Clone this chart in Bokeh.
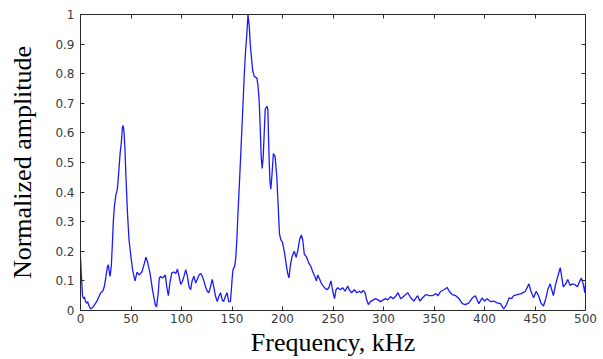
from bokeh.plotting import figure
from bokeh.models import LinearAxis, FixedTicker, Range1d, CustomLabelingPolicy
from bokeh.embed import file_html
from bokeh.resources import INLINE

freq = [0, 1, 2, 3, 4, 5, 6, 7, 8, 9, 10, 11, 12, 14, 16, 18, 20, 22, 23.5, 25,
        26.5, 27.5, 28.5, 29.3, 30.5, 31.5, 32.5, 33.5, 35, 36.5, 37.8, 39.2, 40.5, 41.5, 42.3, 43,
        44, 45, 46.5, 48, 50, 51.7, 54, 56, 58, 60.8, 63.3, 64.8, 66.3, 68.8, 71.3, 74, 75.3,
        77, 78, 79.4, 81.4, 84, 85.4, 87, 88.5, 90.4, 92.5, 94.4, 96, 97.5, 99.3, 100.9, 102.5,
        104.2, 105.8, 107.5, 109, 110.5, 112.3, 114, 115.6, 117.3, 119, 120.6, 122.2, 123.8, 125.5,
        127.1, 128.7, 130.4, 132, 133.7, 135.4, 137, 138.7, 140.2, 141.7, 143.5, 145.1, 146.7, 148.4,
        149.4, 150.1, 151, 152.7, 153.8, 154.8, 155.8, 156.8, 158.3, 159.6, 160.8, 162.2, 163.5,
        164.8, 165.8, 167.1, 168.1, 169.1, 170.5, 172.1, 174.7, 175.7, 176.9, 177.9, 178.9, 179.9,
        180.9, 181.9, 182.9, 184.5, 185.5, 186.5, 187.5, 188.4, 189.4, 191, 192.7, 194.4, 195.4,
        197, 198.2, 200, 202, 203.5, 205, 206.4, 207.7, 209.3, 211.6, 213.5, 215, 217, 218.6, 220,
        221.6, 223.9, 226, 228, 230, 232, 233.5, 235, 236.9, 239, 241.6, 244, 245.9, 248, 249.8,
        251.5, 253, 254.7, 257.3, 259.6, 261.9, 264.6, 266, 268.4, 271, 273.6, 276, 278, 280, 281.7,
        283.3, 285, 287, 289.9, 292, 294.5, 297, 299.7, 302, 304.3, 306.9, 309.5, 311.8, 314.4,
        317, 320.6, 324, 327, 330, 333.8, 336, 338.7, 342, 345, 348.5, 351.8, 354, 356.7, 360, 363,
        365, 368, 371.5, 374.8, 378, 381, 384.6, 388, 391, 394.4, 397.7, 400, 402.6, 406, 409,
        412.5, 415.8, 419, 421.8, 424.5, 426.8, 429, 432.5, 436.4, 440.5, 444, 446, 448.6, 451.2,
        453.5, 455.8, 458.4, 460.7, 462.6, 465, 466.6, 468.2, 470.5, 473, 475, 476.6, 478, 480.4,
        482.4, 484.7, 487, 489.6, 492, 494.4, 496, 497.7, 499.3, 500]

amp = [0.18, 0.11, 0.05, 0.04, 0.045, 0.03, 0.025, 0.03, 0.02, 0.012, 0.005, 0.008, 0.01, 0.02,
       0.03, 0.045, 0.06, 0.065, 0.08, 0.11,
       0.145, 0.155, 0.13, 0.115, 0.15, 0.22, 0.30, 0.35, 0.39, 0.41, 0.465, 0.53, 0.57, 0.62, 0.625, 0.605,
       0.55, 0.45, 0.33, 0.24, 0.18, 0.135, 0.10, 0.13, 0.12, 0.13, 0.16, 0.18, 0.165, 0.127, 0.07, 0.02, 0.012,
       0.06, 0.11, 0.115, 0.11, 0.12, 0.08, 0.05, 0.093, 0.127, 0.13, 0.125, 0.14, 0.116, 0.088, 0.099, 0.116,
       0.138, 0.116, 0.08, 0.07, 0.10, 0.116, 0.093, 0.105, 0.12, 0.125, 0.116, 0.10, 0.08, 0.065,
       0.06, 0.08, 0.105, 0.08, 0.048, 0.03, 0.048, 0.06, 0.037, 0.03, 0.048, 0.06, 0.03, 0.03,
       0.07, 0.105, 0.138, 0.15, 0.18, 0.24, 0.32, 0.39, 0.50, 0.60, 0.69, 0.80, 0.88,
       0.94, 1.0, 0.96, 0.90, 0.86, 0.81, 0.79, 0.785, 0.76, 0.71, 0.62, 0.52, 0.48,
       0.52, 0.60, 0.68, 0.69, 0.68, 0.54, 0.44, 0.41, 0.45, 0.53, 0.52, 0.45, 0.375,
       0.26, 0.24, 0.23, 0.195, 0.16, 0.127, 0.11, 0.15, 0.18, 0.20, 0.18, 0.20, 0.24, 0.255, 0.24,
       0.19, 0.18, 0.16, 0.15, 0.13, 0.116, 0.10, 0.12, 0.105, 0.088, 0.077, 0.07, 0.077, 0.10, 0.065,
       0.04, 0.07, 0.077, 0.07, 0.077, 0.065, 0.083, 0.07, 0.06, 0.07, 0.06, 0.065, 0.06, 0.068, 0.06,
       0.036, 0.02, 0.03, 0.036, 0.04, 0.036, 0.03, 0.036, 0.04, 0.036, 0.047, 0.04, 0.047, 0.06,
       0.04, 0.05, 0.06, 0.043, 0.032, 0.05, 0.032, 0.043, 0.054, 0.05, 0.05, 0.057, 0.05, 0.065, 0.07, 0.078,
       0.065, 0.054, 0.05, 0.04, 0.023, 0.02, 0.026, 0.043, 0.05, 0.023, 0.043, 0.032, 0.04, 0.03, 0.032,
       0.026, 0.023, 0.005, 0.02, 0.043, 0.04, 0.05, 0.054, 0.057, 0.065, 0.09, 0.065, 0.043, 0.065,
       0.05, 0.026, 0.015, 0.04, 0.07, 0.09, 0.07, 0.05, 0.09, 0.12, 0.145, 0.11, 0.08, 0.09,
       0.105, 0.085, 0.09, 0.087, 0.08, 0.10, 0.11, 0.09, 0.06, 0.09]

x_ticks = [0, 50, 100, 150, 200, 250, 300, 350, 400, 450, 500]
x_tick_labels = ["0", "50", "100", "150", "200", "250", "300", "350", "400", "450", "500"]
y_ticks = [0, 0.1, 0.2, 0.3, 0.4, 0.5, 0.6, 0.7, 0.8, 0.9, 1]
y_tick_labels = ["0", "0.1", "0.2", "0.3", "0.4", "0.5", "0.6", "0.7", "0.8", "0.9", "1"]

AX = "#2a2a2a"
TICK_FONT = "DejaVu Sans"
LABEL_FONT = "Liberation Serif"

p = figure(width=603, height=359, x_range=Range1d(0, 500), y_range=Range1d(0, 1),
           output_backend="svg", toolbar_location=None,
           min_border_left=80, min_border_right=14, min_border_top=14, min_border_bottom=49)
p.xgrid.visible = False
p.ygrid.visible = False
p.outline_line_color = None
p.background_fill_color = "white"
p.border_fill_color = "white"

p.line(freq, amp, line_color="#1a1aff", line_width=1.3)

hide_all = CustomLabelingPolicy(code="for (let i = 0; i < indices.size; i++) { indices.unset(i) }\nreturn indices")


def style_axis(ax, ticks, labels, show_labels):
    ax.ticker = FixedTicker(ticks=ticks)
    ax.major_tick_in = 4
    ax.major_tick_out = 0
    ax.minor_tick_line_color = None
    ax.axis_line_color = AX
    ax.axis_line_width = 1
    ax.major_tick_line_color = AX
    if show_labels:
        ax.major_label_overrides = dict(zip(ticks, labels))
        ax.major_label_text_font = TICK_FONT
        ax.major_label_text_font_size = "12px"
        ax.major_label_text_color = "#3a3a3a"
        ax.axis_label_text_font = LABEL_FONT
        ax.axis_label_text_font_size = "26px"
        ax.axis_label_text_font_style = "normal"
        ax.axis_label_text_color = "black"
    else:
        ax.major_label_policy = hide_all
        ax.major_label_standoff = 0


xa = p.xaxis[0]
style_axis(xa, x_ticks, x_tick_labels, True)
xa.axis_label = "Frequency, kHz"
xa.major_label_standoff = 3
xa.axis_label_standoff = 2

ya = p.yaxis[0]
style_axis(ya, y_ticks, y_tick_labels, True)
ya.axis_label = "Normalized amplitude"
ya.major_label_standoff = 6
ya.axis_label_standoff = 15

top = LinearAxis()
style_axis(top, x_ticks, x_tick_labels, False)
p.add_layout(top, "above")

right = LinearAxis()
style_axis(right, y_ticks, y_tick_labels, False)
p.add_layout(right, "right")

open("out.html", "w").write(file_html(p, INLINE))
